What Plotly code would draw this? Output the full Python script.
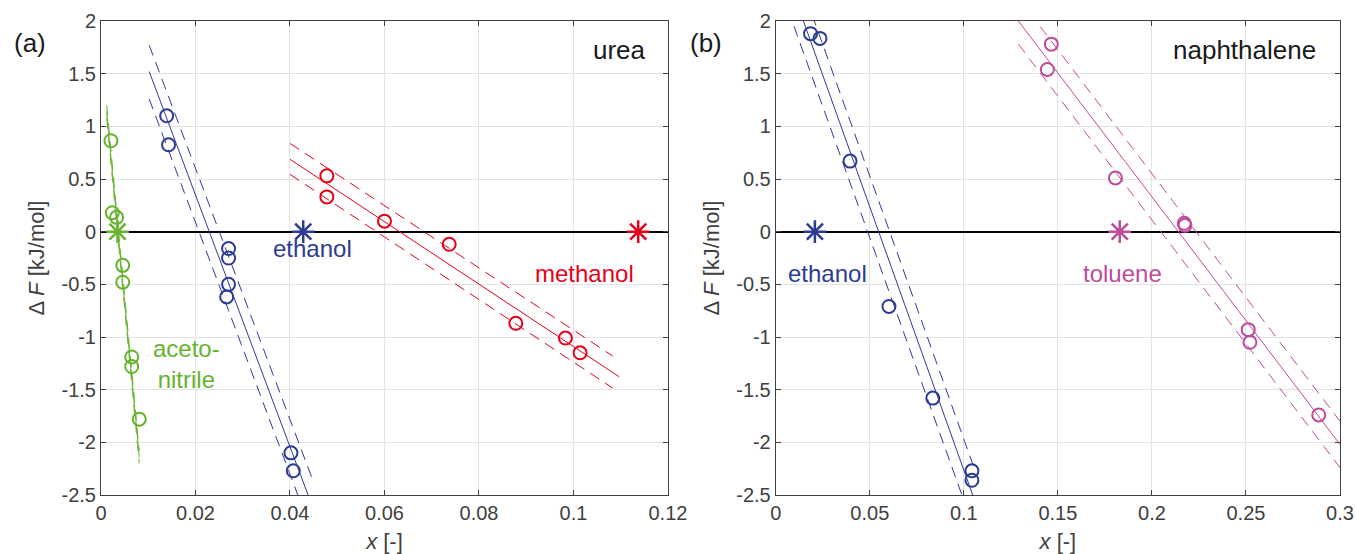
import plotly.graph_objects as go

# ---------------- colours ----------------
GREEN = "#66b32e"
BLUE = "#2e3b92"
RED = "#e6001a"
MAGENTA = "#be4a9a"

# ---------------- panel (a): urea ----------------
acn_x = [0.0021, 0.0024, 0.0033, 0.0046, 0.0046, 0.0065, 0.0065, 0.0081]
acn_y = [0.863, 0.18, 0.136, -0.32, -0.48, -1.19, -1.28, -1.78]
acn_fit_x = [0.0012, 0.0081]
acn_fit_y = [1.14, -2.14]
acn_hi_y = [1.20, -2.08]
acn_lo_y = [1.08, -2.20]

eta_x = [0.0139, 0.0143, 0.0270, 0.0270, 0.0270, 0.0266, 0.0402, 0.0407]
eta_y = [1.10, 0.825, -0.16, -0.25, -0.50, -0.62, -2.10, -2.27]
eta_fit_x = [0.0102, 0.0450]
eta_fit_y = [1.52, -2.64]
eta_hi_y = [1.77, -2.38]
eta_lo_y = [1.26, -2.90]

meoh_x = [0.0478, 0.0478, 0.0600, 0.0737, 0.0878, 0.0983, 0.1014]
meoh_y = [0.53, 0.33, 0.10, -0.12, -0.87, -1.01, -1.15]
meoh_fit_x = [0.040, 0.1097]
meoh_fit_y = [0.687, -1.378]
meoh_band_x = [0.040, 0.1083]
meoh_hi_y = [0.838, -1.18]
meoh_lo_y = [0.544, -1.485]

stars_a_x = [0.0035, 0.0428, 0.1137]
stars_a_y = [0, 0, 0]

# ---------------- panel (b): naphthalene ----------------
etb_x = [0.0185, 0.0235, 0.0395, 0.0602, 0.0835, 0.1043, 0.1043]
etb_y = [1.88, 1.835, 0.67, -0.71, -1.58, -2.27, -2.36]
etb_fit_x = [0.0097, 0.1060]
etb_fit_y = [2.25, -2.564]
etb_hi_y = [2.54, -2.27]
etb_lo_y = [1.95, -2.85]

tol_x = [0.1465, 0.1444, 0.1806, 0.2172, 0.2176, 0.2512, 0.2521, 0.2887]
tol_y = [1.78, 1.54, 0.51, 0.08, 0.06, -0.93, -1.05, -1.74]
tol_fit_x = [0.129, 0.300]
tol_fit_y = [2.00, -2.02]
tol_hi_y = [2.22, -1.80]
tol_lo_y = [1.78, -2.24]

stars_b_x = [0.0208, 0.1829]
stars_b_y = [0, 0]

# ---------------- ticks ----------------
y_tickvals = [2, 1.5, 1, 0.5, 0, -0.5, -1, -1.5, -2, -2.5]
y_ticktext = ["2", "1.5", "1", "0.5", "0", "-0.5", "-1", "-1.5", "-2", "-2.5"]
xa_tickvals = [0, 0.02, 0.04, 0.06, 0.08, 0.1, 0.12]
xa_ticktext = ["0", "0.02", "0.04", "0.06", "0.08", "0.1", "0.12"]
xb_tickvals = [0, 0.05, 0.1, 0.15, 0.2, 0.25, 0.3]
xb_ticktext = ["0", "0.05", "0.1", "0.15", "0.2", "0.25", "0.3"]

FONT = "Liberation Sans, Arial, Helvetica, sans-serif"
DASH = "11px,7px"

fig = go.Figure()


def add_fit(xs, ys, color, xref, yref, dash=None, width=1):
    fig.add_trace(go.Scatter(x=xs, y=ys, mode="lines", xaxis=xref, yaxis=yref,
                             line=dict(color=color, width=width, dash=dash),
                             hoverinfo="skip", showlegend=False))


def add_pts(xs, ys, color, xref, yref):
    fig.add_trace(go.Scatter(x=xs, y=ys, mode="markers", xaxis=xref, yaxis=yref,
                             marker=dict(symbol="circle-open", size=13, color=color,
                                         line=dict(width=2, color=color)),
                             hoverinfo="skip", showlegend=False))


def add_star(x, y, color, xref, yref):
    fig.add_trace(go.Scatter(x=[x], y=[y], mode="markers", xaxis=xref, yaxis=yref,
                             marker=dict(symbol="asterisk-open", size=19, color=color,
                                         line=dict(width=2.5, color=color)),
                             hoverinfo="skip", showlegend=False))


# panel (a)
add_fit(acn_fit_x, acn_fit_y, GREEN, "x", "y")
add_fit(acn_fit_x, acn_hi_y, GREEN, "x", "y", DASH)
add_fit(acn_fit_x, acn_lo_y, GREEN, "x", "y", DASH)
add_fit(eta_fit_x, eta_fit_y, BLUE, "x", "y")
add_fit(eta_fit_x, eta_hi_y, BLUE, "x", "y", DASH)
add_fit(eta_fit_x, eta_lo_y, BLUE, "x", "y", DASH)
add_fit(meoh_fit_x, meoh_fit_y, RED, "x", "y")
add_fit(meoh_band_x, meoh_hi_y, RED, "x", "y", DASH)
add_fit(meoh_band_x, meoh_lo_y, RED, "x", "y", DASH)
add_pts(acn_x, acn_y, GREEN, "x", "y")
add_pts(eta_x, eta_y, BLUE, "x", "y")
add_pts(meoh_x, meoh_y, RED, "x", "y")
for sx, sy, c in zip(stars_a_x, stars_a_y, [GREEN, BLUE, RED]):
    add_star(sx, sy, c, "x", "y")

# panel (b)
add_fit(etb_fit_x, etb_fit_y, BLUE, "x2", "y2")
add_fit(etb_fit_x, etb_hi_y, BLUE, "x2", "y2", DASH)
add_fit(etb_fit_x, etb_lo_y, BLUE, "x2", "y2", DASH)
add_fit(tol_fit_x, tol_fit_y, MAGENTA, "x2", "y2")
add_fit(tol_fit_x, tol_hi_y, MAGENTA, "x2", "y2", DASH)
add_fit(tol_fit_x, tol_lo_y, MAGENTA, "x2", "y2", DASH)
add_pts(etb_x, etb_y, BLUE, "x2", "y2")
add_pts(tol_x, tol_y, MAGENTA, "x2", "y2")
for sx, sy, c in zip(stars_b_x, stars_b_y, [BLUE, MAGENTA]):
    add_star(sx, sy, c, "x2", "y2")

AX = "#404040"
common_x = dict(showline=True, linecolor=AX, linewidth=1, mirror="ticks",
                ticks="inside", ticklen=5, tickcolor=AX, showgrid=True,
                gridcolor="#e3e3e3", gridwidth=1, zeroline=False, automargin=False,
                tickfont=dict(family=FONT, size=20, color=AX))
common_y = dict(showline=True, linecolor=AX, linewidth=1, mirror="ticks",
                ticks="inside", ticklen=5, tickcolor=AX, showgrid=True,
                gridcolor="#e3e3e3", gridwidth=1, zeroline=True, automargin=False,
                zerolinecolor="black", zerolinewidth=2,
                tickfont=dict(family=FONT, size=20, color=AX),
                range=[-2.5, 2], tickvals=y_tickvals, ticktext=y_ticktext)

ytitle = dict(text="Δ <i>F</i> [kJ/mol]", font=dict(family=FONT, size=22, color=AX), standoff=10)
xtitle = dict(text="<i>x</i> [-]", font=dict(family=FONT, size=22, color=AX), standoff=10)

fig.update_layout(
    width=1356, height=554,
    margin=dict(l=101, r=16, t=21, b=59, autoexpand=False),
    paper_bgcolor="white", plot_bgcolor="white",
    showlegend=False, hovermode=False,
    font=dict(family=FONT),
    xaxis=dict(domain=[0, 0.4576], range=[0, 0.12], tickvals=xa_tickvals,
               ticktext=xa_ticktext, anchor="y", title=xtitle, **common_x),
    yaxis=dict(domain=[0, 1], anchor="x", title=ytitle, **common_y),
    xaxis2=dict(domain=[0.5446, 1], range=[0, 0.3], tickvals=xb_tickvals,
                ticktext=xb_ticktext, anchor="y2", title=xtitle, **common_x),
    yaxis2=dict(domain=[0, 1], anchor="x2", title=ytitle, **common_y),
)

ann = [
    dict(text="urea", x=0.1158, y=1.72, xref="x", yref="y", xanchor="right",
         yanchor="middle", font=dict(size=26, color="#1a1a1a")),
    dict(text="naphthalene", x=0.2883, y=1.72, xref="x2", yref="y2", xanchor="right",
         yanchor="middle", font=dict(size=26, color="#1a1a1a")),
    dict(text="ethanol", x=0.0447, y=-0.16, xref="x", yref="y", font=dict(size=24, color=BLUE)),
    dict(text="methanol", x=0.1023, y=-0.40, xref="x", yref="y", font=dict(size=24, color=RED)),
    dict(text="aceto-<br>nitrile", x=0.0182, y=-1.257, xref="x", yref="y",
         font=dict(size=24, color=GREEN)),
    dict(text="ethanol", x=0.0277, y=-0.393, xref="x2", yref="y2", font=dict(size=24, color=BLUE)),
    dict(text="toluene", x=0.1842, y=-0.393, xref="x2", yref="y2", font=dict(size=24, color=MAGENTA)),
    dict(text="(a)", x=-0.0573, y=0.9536, xref="paper", yref="paper",
         font=dict(size=26, color="#1a1a1a")),
    dict(text="(b)", x=0.4883, y=0.9536, xref="paper", yref="paper",
         font=dict(size=26, color="#1a1a1a")),
]
for a in ann:
    a.setdefault("xanchor", "center")
    a.setdefault("yanchor", "middle")
    a["showarrow"] = False
    a["font"]["family"] = FONT
fig.update_layout(annotations=ann)

fig.write_html(
    "out.html",
    config={"displayModeBar": False},
    post_script="document.body.style.margin='0';document.body.style.padding='0';",
)
